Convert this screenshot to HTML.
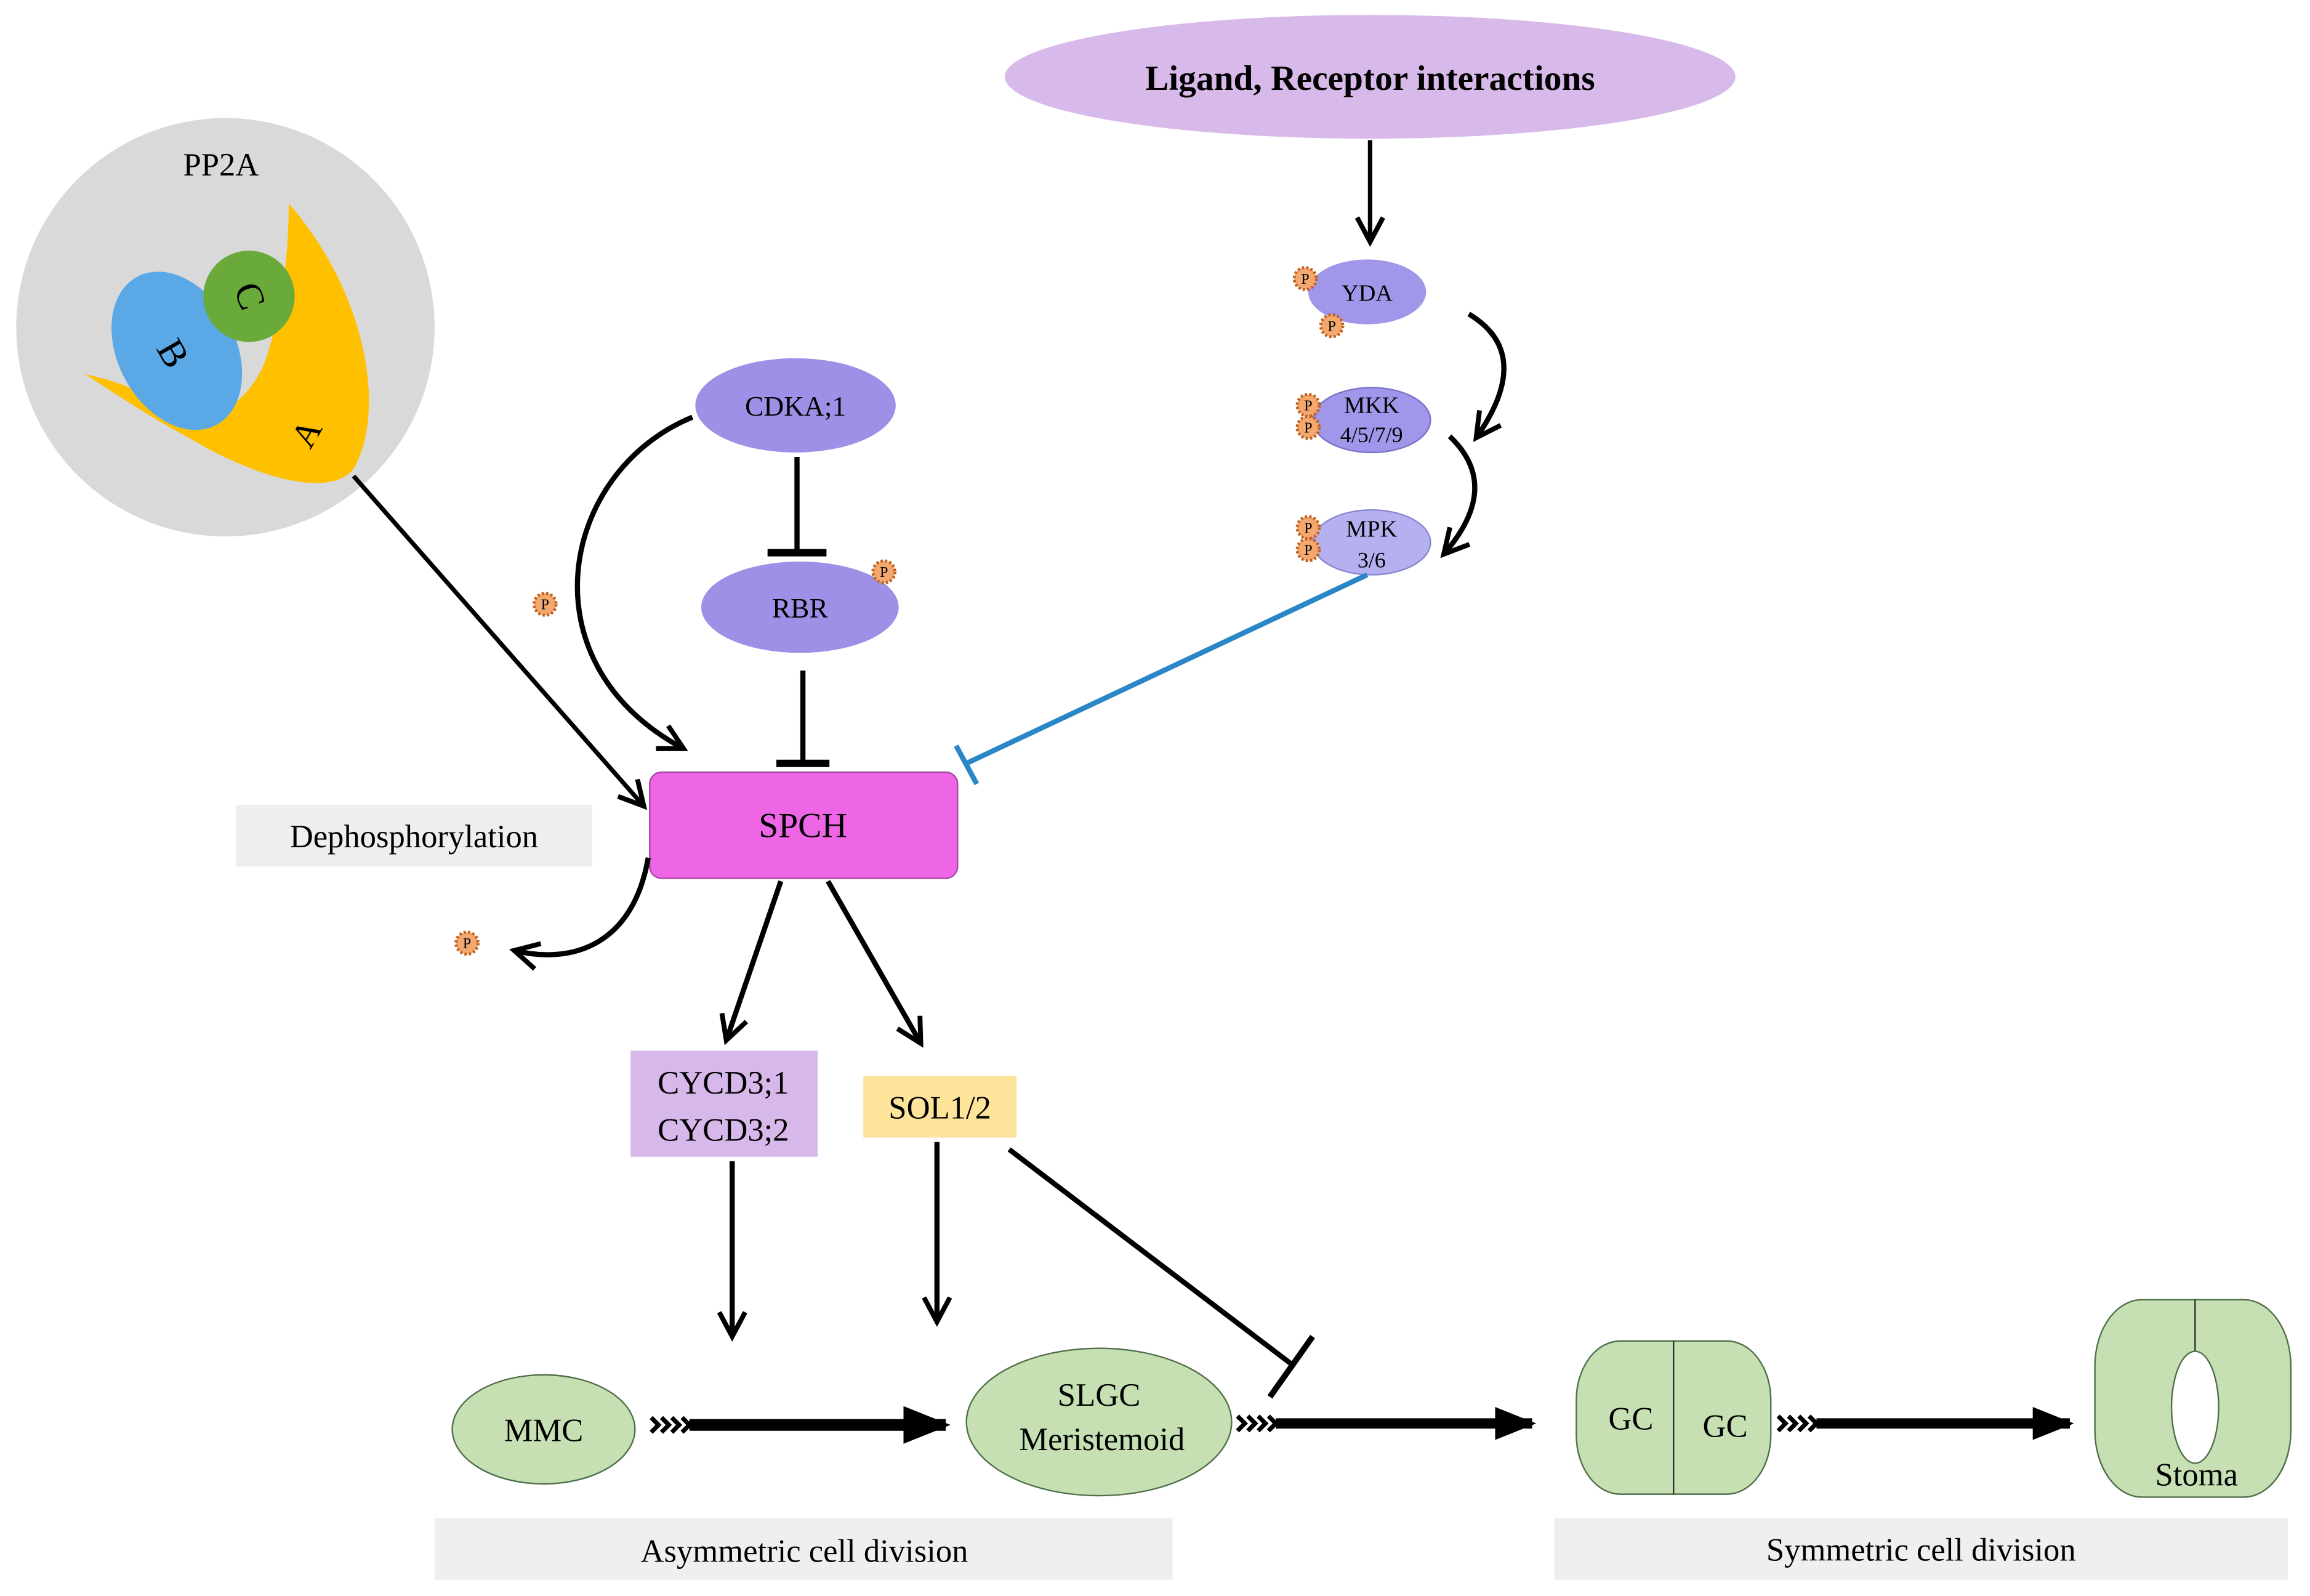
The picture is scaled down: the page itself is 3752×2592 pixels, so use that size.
<!DOCTYPE html>
<html><head><style>html,body{margin:0;padding:0;background:#fff}svg{display:block}</style></head><body>
<svg width="3752" height="2592" viewBox="0 0 1568 1083" xmlns="http://www.w3.org/2000/svg" font-family="Liberation Serif, serif">
<defs>
<marker id="ar2" viewBox="0 0 20 20" refX="17" refY="10" markerWidth="22" markerHeight="22" orient="auto" markerUnits="userSpaceOnUse">
<path d="M2,2 L17,10 L2,18" fill="none" stroke="#000" stroke-width="3"/></marker>
<marker id="big" viewBox="0 0 10 10" refX="9" refY="5" markerWidth="4" markerHeight="4" orient="auto">
<path d="M0,1 L10,5 L0,9 z" fill="#000"/></marker>
<g id="p"><circle r="7.5" fill="#f3a870" stroke="#c0601c" stroke-width="2" stroke-dasharray="1.5 1.5"/><text y="3.5" text-anchor="middle" font-size="10" fill="#000">P</text></g>
<g id="chev" fill="none" stroke="#000" stroke-width="3"><path d="M0,-5 L5,0 L0,5"/><path d="M7,-5 L12,0 L7,5"/><path d="M14,-5 L19,0 L14,5"/><path d="M21,-5 L26,0 L21,5"/></g>
</defs>

<ellipse cx="930" cy="52" rx="248" ry="42" fill="#d8baea"/>
<text x="930" y="61" text-anchor="middle" font-size="24" font-weight="bold">Ligand, Receptor interactions</text>
<line x1="930" y1="95" x2="930" y2="164" stroke="#000" stroke-width="3" marker-end="url(#ar2)"/>

<ellipse cx="928" cy="198" rx="40" ry="22" fill="#a097ea"/>
<text x="928" y="204" text-anchor="middle" font-size="16">YDA</text>
<use href="#p" x="886" y="189"/><use href="#p" x="904" y="221"/>
<ellipse cx="931" cy="285" rx="40" ry="22" fill="#a097ea" stroke="#7a72c8"/>
<text x="931" y="280" text-anchor="middle" font-size="16">MKK</text>
<text x="931" y="300" text-anchor="middle" font-size="15">4/5/7/9</text>
<use href="#p" x="888" y="275"/><use href="#p" x="888" y="290"/>
<ellipse cx="931" cy="368" rx="40" ry="22" fill="#b5b1f0" stroke="#8a86d0"/>
<text x="931" y="364" text-anchor="middle" font-size="16">MPK</text>
<text x="931" y="385" text-anchor="middle" font-size="15">3/6</text>
<use href="#p" x="888" y="358"/><use href="#p" x="888" y="373"/>
<path d="M997,213 Q1042,240 1002,297" fill="none" stroke="#000" stroke-width="3.5" marker-end="url(#ar2)"/>
<path d="M984,296 Q1020,330 980,376" fill="none" stroke="#000" stroke-width="3.5" marker-end="url(#ar2)"/>
<line x1="928" y1="390" x2="656" y2="518" stroke="#2a86c6" stroke-width="3.5"/>
<line x1="649" y1="506" x2="663" y2="532" stroke="#2a86c6" stroke-width="3.5"/>

<circle cx="153" cy="222" r="142" fill="#d9d9d9"/>
<text x="150" y="119" text-anchor="middle" font-size="22">PP2A</text>
<path d="M196,138 C250,200 262,280 240,318 C225,338 175,325 130,298 C100,282 75,265 58,254 C90,260 110,275 128,282 C150,285 170,270 180,245 C192,210 196,170 196,138 Z" fill="#ffc000"/>
<ellipse cx="120" cy="238" rx="40" ry="57" transform="rotate(-28 120 238)" fill="#5aa8e6"/>
<circle cx="169" cy="201" r="31" fill="#6aaa3a"/>
<text x="169" y="209" text-anchor="middle" font-size="26" transform="rotate(70 169 201)">C</text>
<text x="117" y="248" text-anchor="middle" font-size="26" transform="rotate(60 117 240)">B</text>
<text x="208" y="302" text-anchor="middle" font-size="24" transform="rotate(-60 208 294)">A</text>
<line x1="240" y1="323" x2="437" y2="547" stroke="#000" stroke-width="3" marker-end="url(#ar2)"/>

<ellipse cx="540" cy="275" rx="68" ry="32" fill="#9d90e6"/>
<text x="540" y="282" text-anchor="middle" font-size="19">CDKA;1</text>
<path d="M470,283 C380,320 355,450 464,508" fill="none" stroke="#000" stroke-width="3.5" marker-end="url(#ar2)"/>
<use href="#p" x="370" y="410"/>
<line x1="541" y1="310" x2="541" y2="375" stroke="#000" stroke-width="3.5"/>
<line x1="521" y1="375" x2="561" y2="375" stroke="#000" stroke-width="5"/>
<ellipse cx="543" cy="412" rx="67" ry="31" fill="#9d90e6"/>
<text x="543" y="419" text-anchor="middle" font-size="19">RBR</text>
<use href="#p" x="600" y="388"/>
<line x1="545" y1="455" x2="545" y2="518" stroke="#000" stroke-width="3.5"/>
<line x1="527" y1="518" x2="563" y2="518" stroke="#000" stroke-width="5"/>

<rect x="441" y="524" width="209" height="72" rx="8" fill="#ee66e6" stroke="#a848a8"/>
<text x="545" y="568" text-anchor="middle" font-size="24">SPCH</text>
<rect x="160" y="546" width="242" height="42" fill="#efefef"/>
<text x="281" y="575" text-anchor="middle" font-size="22">Dephosphorylation</text>
<path d="M440,582 C430,640 390,655 349,645" fill="none" stroke="#000" stroke-width="3.5" marker-end="url(#ar2)"/>
<use href="#p" x="317" y="640"/>
<line x1="530" y1="598" x2="493" y2="706" stroke="#000" stroke-width="3.5" marker-end="url(#ar2)"/>
<line x1="562" y1="598" x2="625" y2="708" stroke="#000" stroke-width="3.5" marker-end="url(#ar2)"/>

<rect x="428" y="713" width="127" height="72" fill="#d7b8ea"/>
<text x="491" y="742" text-anchor="middle" font-size="22">CYCD3;1</text>
<text x="491" y="774" text-anchor="middle" font-size="22">CYCD3;2</text>
<rect x="586" y="730" width="104" height="42" fill="#fde49a"/>
<text x="638" y="759" text-anchor="middle" font-size="22">SOL1/2</text>
<line x1="497" y1="788" x2="497" y2="907" stroke="#000" stroke-width="3.5" marker-end="url(#ar2)"/>
<line x1="636" y1="775" x2="636" y2="897" stroke="#000" stroke-width="3.5" marker-end="url(#ar2)"/>
<line x1="685" y1="780" x2="877" y2="926" stroke="#000" stroke-width="3.5"/>
<line x1="891" y1="907" x2="862" y2="948" stroke="#000" stroke-width="4"/>

<ellipse cx="369" cy="970" rx="62" ry="37" fill="#c6e0b4" stroke="#50704a"/>
<text x="369" y="978" text-anchor="middle" font-size="22">MMC</text>
<ellipse cx="746" cy="965" rx="90" ry="50" fill="#c6e0b4" stroke="#50704a"/>
<text x="746" y="954" text-anchor="middle" font-size="22">SLGC</text>
<text x="748" y="984" text-anchor="middle" font-size="22">Meristemoid</text>
<use href="#chev" x="442" y="967"/>
<use href="#chev" x="840" y="966"/>
<use href="#chev" x="1207" y="966"/>
<line x1="468" y1="967" x2="642" y2="967" stroke="#000" stroke-width="8" marker-end="url(#big)"/>
<line x1="866" y1="966" x2="1040" y2="966" stroke="#000" stroke-width="7" marker-end="url(#big)"/>
<line x1="1233" y1="966" x2="1405" y2="966" stroke="#000" stroke-width="7" marker-end="url(#big)"/>
<rect x="1070" y="910" width="132" height="104" rx="30" ry="40" fill="#c6e0b4" stroke="#50704a"/>
<line x1="1136" y1="910" x2="1136" y2="1014" stroke="#303030"/>
<text x="1107" y="970" text-anchor="middle" font-size="22">GC</text>
<text x="1171" y="975" text-anchor="middle" font-size="22">GC</text>
<rect x="1422" y="882" width="133" height="134" rx="32" ry="45" fill="#c6e0b4" stroke="#50704a"/>
<line x1="1490" y1="882" x2="1490" y2="918" stroke="#303030"/>
<ellipse cx="1490" cy="955" rx="16" ry="38" fill="#fff" stroke="#50704a"/>
<text x="1491" y="1008" text-anchor="middle" font-size="22">Stoma</text>

<rect x="295" y="1030" width="501" height="42" fill="#efefef"/>
<text x="546" y="1060" text-anchor="middle" font-size="22">Asymmetric cell division</text>
<rect x="1055" y="1030" width="498" height="42" fill="#efefef"/>
<text x="1304" y="1059" text-anchor="middle" font-size="22">Symmetric cell division</text>
</svg>
</body></html>
